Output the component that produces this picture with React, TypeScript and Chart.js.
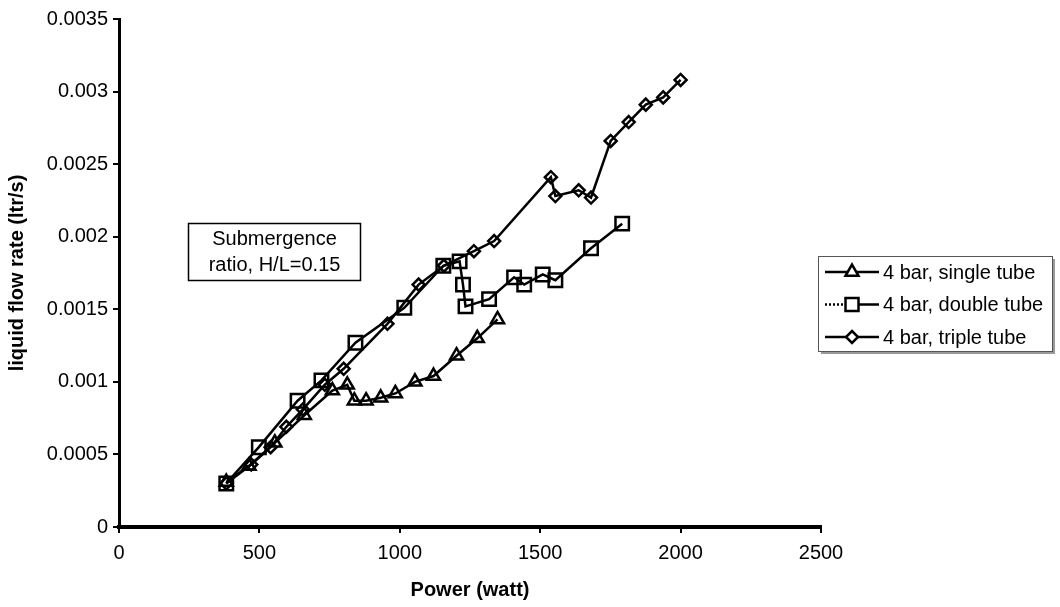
import React, { useEffect, useRef } from 'react';
import { Chart, registerables } from 'chart.js';

Chart.register(...registerables);

const singlePower = [382, 463, 555, 660, 760, 813, 838, 880, 932, 984, 1054, 1120, 1202, 1276, 1348];
const singleFlow = [0.00031, 0.00042, 0.00058, 0.00077, 0.00094, 0.00098, 0.00087, 0.00087, 0.00089, 0.00092, 0.001, 0.00104, 0.00118, 0.0013, 0.00143];

const doublePower = [382, 498, 636, 721, 842, 1016, 1155, 1213, 1225, 1234, 1318, 1407, 1443, 1509, 1554, 1681, 1792];
const doubleFlow = [0.0003, 0.00055, 0.00087, 0.00101, 0.00127, 0.00151, 0.0018, 0.00183, 0.00167, 0.00152, 0.00157, 0.00172, 0.00167, 0.00174, 0.0017, 0.00192, 0.00209];

const triplePower = [382, 471, 540, 596, 655, 733, 800, 956, 1067, 1157, 1264, 1336, 1538, 1554, 1637, 1681, 1751, 1815, 1876, 1938, 2000];
const tripleFlow = [0.0003, 0.00043, 0.00055, 0.00069, 0.00081, 0.00098, 0.00109, 0.0014, 0.00167, 0.0018, 0.0019, 0.00197, 0.00241, 0.00228, 0.00232, 0.00227, 0.00266, 0.00279, 0.00291, 0.00296, 0.00308];

const seriesLabels = ['4 bar, single tube', '4 bar, double tube', '4 bar, triple tube'];

const xTickValues = [0, 500, 1000, 1500, 2000, 2500];
const xTickLabels = ['0', '500', '1000', '1500', '2000', '2500'];
const yTickValues = [0, 0.0005, 0.001, 0.0015, 0.002, 0.0025, 0.003, 0.0035];
const yTickLabels = ['0', '0.0005', '0.001', '0.0015', '0.002', '0.0025', '0.003', '0.0035'];

const xTitle = 'Power (watt)';
const yTitle = 'liquid flow rate (ltr/s)';
const annotationLines = ['Submergence', 'ratio, H/L=0.15'];

const FONT = '"Liberation Sans", Arial, sans-serif';

function toPoints(xs: number[], ys: number[]) {
  return xs.map((x, i) => ({ x, y: ys[i] }));
}

function drawMarker(ctx: CanvasRenderingContext2D, style: string, x: number, y: number) {
  ctx.beginPath();
  if (style === 'triangle') {
    const r = 7.5;
    ctx.moveTo(x, y - r);
    ctx.lineTo(x + r * Math.sin((2 * Math.PI) / 3), y - r * Math.cos((2 * Math.PI) / 3));
    ctx.lineTo(x + r * Math.sin((4 * Math.PI) / 3), y - r * Math.cos((4 * Math.PI) / 3));
    ctx.closePath();
  } else if (style === 'rect') {
    const s = 6.5;
    ctx.rect(x - s, y - s, 2 * s, 2 * s);
  } else {
    const r = 6;
    ctx.moveTo(x, y - r);
    ctx.lineTo(x + r, y);
    ctx.lineTo(x, y + r);
    ctx.lineTo(x - r, y);
    ctx.closePath();
  }
  ctx.fillStyle = '#fff';
  ctx.fill();
  ctx.stroke();
}

const overlayPlugin = {
  id: 'overlay',
  afterDraw(chart: any) {
    const ctx: CanvasRenderingContext2D = chart.ctx;
    ctx.save();
    // annotation box
    ctx.strokeStyle = '#000';
    ctx.lineWidth = 1.5;
    ctx.strokeRect(188.5, 223.5, 172, 57);
    ctx.fillStyle = '#000';
    ctx.font = `20px ${FONT}`;
    ctx.textAlign = 'center';
    ctx.textBaseline = 'middle';
    ctx.fillText(annotationLines[0], 274.5, 239);
    ctx.fillText(annotationLines[1], 274.5, 265);

    // legend box
    const lx = 818, ly = 256, lw = 234, lh = 95;
    ctx.fillStyle = '#9a9a9a';
    ctx.fillRect(lx + 3, ly + 3, lw, lh);
    ctx.fillStyle = '#fff';
    ctx.fillRect(lx, ly, lw, lh);
    ctx.strokeStyle = '#555';
    ctx.lineWidth = 1;
    ctx.strokeRect(lx + 0.5, ly + 0.5, lw, lh);

    const rows = [272, 304.5, 337];
    chart.data.datasets.forEach((ds: any, i: number) => {
      const y = rows[i];
      ctx.strokeStyle = '#000';
      ctx.lineWidth = 2.5;
      if (i === 1) {
        ctx.setLineDash([2, 2]);
        ctx.beginPath();
        ctx.moveTo(825, y);
        ctx.lineTo(852, y);
        ctx.stroke();
        ctx.setLineDash([]);
        ctx.beginPath();
        ctx.moveTo(852, y);
        ctx.lineTo(879, y);
        ctx.stroke();
      } else {
        ctx.beginPath();
        ctx.moveTo(825, y);
        ctx.lineTo(879, y);
        ctx.stroke();
      }
      drawMarker(ctx, ds.pointStyle, 852, y);
      ctx.fillStyle = '#000';
      ctx.font = `20px ${FONT}`;
      ctx.textAlign = 'left';
      ctx.textBaseline = 'middle';
      ctx.fillText(ds.label, 883, y + 1);
    });
    ctx.restore();
  },
};

export default function App() {
  const ref = useRef<HTMLCanvasElement>(null);
  useEffect(() => {
    document.body.style.margin = '0';
    const common = {
      showLine: true,
      borderColor: '#000',
      borderWidth: 2.5,
      pointBorderColor: '#000',
      pointBackgroundColor: 'rgba(0,0,0,0)',
      pointBorderWidth: 2.5,
      tension: 0,
    };
    const chart = new Chart(ref.current as HTMLCanvasElement, {
      type: 'scatter',
      data: {
        datasets: [
          { ...common, label: seriesLabels[0], data: toPoints(singlePower, singleFlow), pointStyle: 'triangle', pointRadius: 7.5 },
          { ...common, label: seriesLabels[1], data: toPoints(doublePower, doubleFlow), pointStyle: 'rect', pointRadius: 9.5 },
          { ...common, label: seriesLabels[2], data: toPoints(triplePower, tripleFlow), pointStyle: 'rectRot', pointRadius: 6 },
        ] as any,
      },
      options: {
        responsive: false,
        animation: false,
        layout: { padding: { left: 0, right: 239, top: 19, bottom: 0 } },
        plugins: { legend: { display: false }, tooltip: { enabled: false } },
        scales: {
          x: {
            type: 'linear',
            min: 0,
            max: 2500,
            afterFit: (s: any) => { s.height = 80; },
            afterBuildTicks: (s: any) => { s.ticks = xTickValues.map((v) => ({ value: v })); },
            ticks: {
              callback: (_v: any, i: number) => xTickLabels[i],
              font: { family: FONT, size: 20 },
              color: '#000',
              padding: 8,
              maxRotation: 0,
              autoSkip: false,
            },
            grid: { display: true, drawOnChartArea: false, drawTicks: true, tickLength: 6, color: '#000', lineWidth: 2 },
            border: { display: true, color: '#000', width: 4 },
            title: { display: true, text: xTitle, color: '#000', font: { family: FONT, size: 20, weight: 'bold' }, padding: { top: 0, bottom: 5 } },
          },
          y: {
            type: 'linear',
            min: 0,
            max: 0.0035,
            afterFit: (s: any) => { s.width = 119; },
            afterBuildTicks: (s: any) => { s.ticks = yTickValues.map((v) => ({ value: v })); },
            ticks: {
              callback: (_v: any, i: number) => yTickLabels[i],
              font: { family: FONT, size: 20 },
              color: '#000',
              padding: 5,
              autoSkip: false,
            },
            grid: { display: true, drawOnChartArea: false, drawTicks: true, tickLength: 6, color: '#000', lineWidth: 2 },
            border: { display: true, color: '#000', width: 3 },
            title: { display: true, text: yTitle, color: '#000', font: { family: FONT, size: 20, weight: 'bold' }, padding: { top: 5, bottom: 0 } },
          },
        },
      } as any,
      plugins: [overlayPlugin],
    });
    return () => chart.destroy();
  }, []);
  return (
    <div style={{ width: 1060, height: 607, background: '#fff' }}>
      <canvas ref={ref} width={1060} height={607} style={{ display: 'block' }} />
    </div>
  );
}
